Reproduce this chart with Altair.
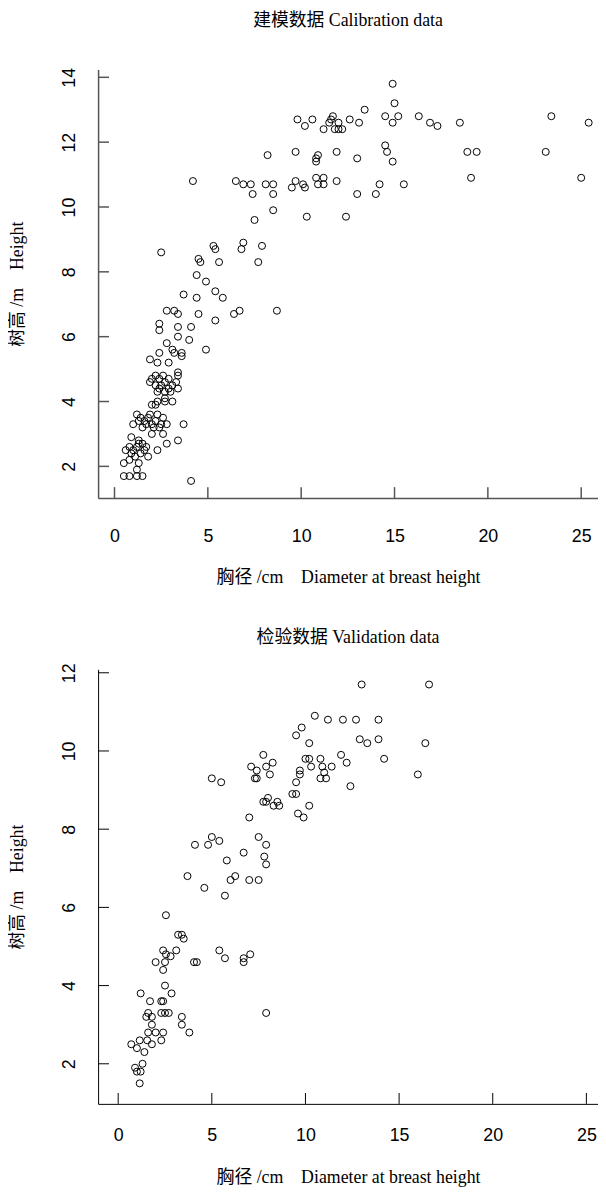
import altair as alt
import pandas as pd

# ---------------- data ----------------
cal_dbh = [14.9, 15.0, 13.4, 14.5, 15.2, 14.9, 16.3, 16.9, 17.3, 18.5, 23.4, 25.4, 12.6, 13.1,
           9.8, 10.6, 10.2, 11.2, 11.6, 11.7, 11.5, 12.0, 11.8, 12.0, 12.2,
           14.5, 14.6, 14.9, 11.9, 13.0, 10.8, 10.9, 10.8, 9.7, 8.2, 18.9, 19.4, 23.1,
           19.1, 25.0, 10.8, 11.2, 11.9, 9.7, 9.5, 10.1, 10.2, 10.9, 11.2, 14.2, 15.5, 13.0, 14.0,
           4.2, 6.5, 6.9, 7.3, 7.4, 8.1, 8.5, 8.5,
           8.5, 7.5, 10.3, 12.4,
           2.5, 5.3, 5.4, 6.9, 6.8, 7.9, 7.7, 4.5, 4.6, 5.6,
           4.4, 4.9, 3.7, 4.4, 5.4, 5.8,
           2.8, 3.2, 3.4, 4.5, 5.4, 6.4, 6.7, 8.7, 2.4, 2.4, 3.4, 4.1, 3.4, 4.0, 2.8, 4.9, 2.4,
           3.1, 3.2, 3.6, 3.6, 1.9, 2.3, 2.9, 3.4, 3.4,
           1.9, 2.0, 2.2, 2.4, 2.5, 2.7, 2.9, 3.1, 2.7, 3.3, 3.4, 2.4, 2.2, 2.9, 3.0, 2.6, 2.3,
           2.7, 2.2, 3.1, 2.0, 2.3, 2.7,
           1.0, 1.2, 1.4, 1.6, 1.8, 2.0, 2.2, 2.4, 2.6, 1.5, 1.9, 1.7, 2.3, 2.5, 2.8, 3.7, 2.1, 1.3,
           2.6, 2.0, 0.9, 1.3, 3.4, 2.8, 2.3,
           0.6, 0.8, 1.0, 1.2, 1.4, 1.6, 1.8, 1.3, 1.1, 1.5, 0.9, 1.7,
           0.5, 0.8, 1.3, 1.2, 0.5, 0.8, 1.2, 1.5, 4.1]
cal_height = [13.8, 13.2, 13.0, 12.8, 12.8, 12.6, 12.8, 12.6, 12.5, 12.6, 12.8, 12.6, 12.7, 12.6,
              12.7, 12.7, 12.5, 12.4, 12.7, 12.8, 12.6, 12.6, 12.4, 12.4, 12.4,
              11.9, 11.7, 11.4, 11.7, 11.5, 11.5, 11.6, 11.4, 11.7, 11.6, 11.7, 11.7, 11.7,
              10.9, 10.9, 10.9, 10.9, 10.8, 10.8, 10.6, 10.7, 10.6, 10.7, 10.7, 10.7, 10.7, 10.4, 10.4,
              10.8, 10.8, 10.7, 10.7, 10.4, 10.7, 10.7, 10.4,
              9.9, 9.6, 9.7, 9.7,
              8.6, 8.8, 8.7, 8.9, 8.7, 8.8, 8.3, 8.4, 8.3, 8.3,
              7.9, 7.7, 7.3, 7.2, 7.4, 7.2,
              6.8, 6.8, 6.7, 6.7, 6.5, 6.7, 6.8, 6.8, 6.4, 6.2, 6.3, 6.3, 6.0, 5.9, 5.8, 5.6, 5.5,
              5.6, 5.5, 5.4, 5.5, 5.3, 5.2, 5.2, 4.9, 4.8,
              4.6, 4.7, 4.5, 4.7, 4.5, 4.6, 4.4, 4.5, 4.3, 4.6, 4.4, 4.4, 4.8, 4.7, 4.3, 4.8, 4.3,
              4.1, 3.9, 4.0, 3.9, 4.0, 4.0,
              3.3, 3.6, 3.5, 3.4, 3.5, 3.3, 3.4, 3.2, 3.5, 3.2, 3.6, 3.3, 3.6, 3.3, 3.3, 3.3, 3.2, 3.4,
              3.0, 3.0, 2.9, 2.8, 2.8, 2.7, 2.5,
              2.5, 2.6, 2.5, 2.6, 2.4, 2.5, 2.3, 2.7, 2.3, 2.7, 2.4, 2.6,
              2.1, 2.2, 2.1, 1.9, 1.7, 1.7, 1.7, 1.7, 1.55]

val_dbh = [13.0, 16.6,
           10.5, 11.2, 12.0, 12.7, 13.9,
           9.8, 9.5, 10.2, 12.9, 13.3, 13.9, 16.4,
           14.2, 11.9, 12.2, 10.0, 10.2, 10.8, 10.3, 10.9, 11.4, 11.0, 9.7, 9.7, 10.8, 11.1, 9.5,
           16.0, 12.4, 9.3, 9.5, 10.2, 9.6, 9.9,
           7.75, 8.25, 7.1, 7.4, 7.9, 8.1, 7.3, 7.4, 5.0, 5.5,
           8.0, 7.9, 8.3, 8.5, 8.6, 7.75, 7.0,
           7.5, 7.9, 5.0, 4.8, 4.1, 5.4, 6.7, 5.8, 7.8, 7.9,
           3.7, 6.25, 6.0, 7.0, 7.5, 4.6, 5.7,
           2.55, 3.2, 3.4, 3.5,
           3.1, 2.4, 2.55, 2.8, 2.0, 2.5, 2.4, 4.05, 4.2, 5.4, 5.7, 6.7, 6.7, 7.05,
           2.5, 1.2, 2.85, 1.7, 2.3, 2.4,
           1.6, 1.5, 1.8, 2.3, 2.5, 2.7, 3.4, 3.4, 7.9, 3.8, 1.8,
           1.6, 2.0, 2.4, 1.15, 1.55, 2.3, 0.7, 1.0, 1.4, 1.8,
           1.3, 0.9, 1.2, 1.0, 1.15]
val_height = [11.7, 11.7,
              10.9, 10.8, 10.8, 10.8, 10.8,
              10.6, 10.4, 10.2, 10.3, 10.2, 10.3, 10.2,
              9.8, 9.9, 9.7, 9.8, 9.8, 9.8, 9.6, 9.6, 9.6, 9.45, 9.5, 9.4, 9.3, 9.3, 9.2,
              9.4, 9.1, 8.9, 8.9, 8.6, 8.4, 8.3,
              9.9, 9.7, 9.6, 9.5, 9.6, 9.4, 9.3, 9.3, 9.3, 9.2,
              8.8, 8.7, 8.6, 8.7, 8.6, 8.7, 8.3,
              7.8, 7.6, 7.8, 7.6, 7.6, 7.7, 7.4, 7.2, 7.3, 7.1,
              6.8, 6.8, 6.7, 6.7, 6.7, 6.5, 6.3,
              5.8, 5.3, 5.3, 5.2,
              4.9, 4.9, 4.8, 4.75, 4.6, 4.6, 4.4, 4.6, 4.6, 4.9, 4.7, 4.7, 4.6, 4.8,
              4.0, 3.8, 3.8, 3.6, 3.6, 3.6,
              3.3, 3.2, 3.2, 3.3, 3.3, 3.3, 3.2, 3.0, 3.3, 2.8, 3.0,
              2.8, 2.8, 2.8, 2.6, 2.6, 2.6, 2.5, 2.4, 2.3, 2.5,
              2.0, 1.9, 1.8, 1.8, 1.5]

cal_xticks = [0, 5, 10, 15, 20, 25]
cal_yticks = [2, 4, 6, 8, 10, 12, 14]
val_xticks = [0, 5, 10, 15, 20, 25]
val_yticks = [2, 4, 6, 8, 10, 12]

cal_title = "建模数据 Calibration data"
val_title = "检验数据 Validation data"
x_title = "胸径 /cm\u00a0\u00a0\u00a0\u00a0Diameter at breast height"
y_title = "树高 /m\u00a0\u00a0\u00a0\u00a0Height"

SERIF = "Liberation Serif, Noto Sans CJK SC"
SANS = "Liberation Sans"
W = 505


def panel(dbh, hgt, xticks, yticks, xdom, ydom, h, title, title_offset,
          axis_color, axis_width, x_label_pad, x_title_pad):
    pts = pd.DataFrame({"dbh": dbh, "height": hgt})
    xs = alt.Scale(domain=xdom, nice=False, zero=False)
    ys = alt.Scale(domain=ydom, nice=False, zero=False)
    xaxis = alt.Axis(values=xticks, title=x_title, ticks=False, grid=False,
                     domainColor=axis_color, domainWidth=axis_width,
                     labelFont=SANS, labelFontSize=18, labelColor="black",
                     labelPadding=x_label_pad, labelFlush=False, labelOverlap=False,
                     titleFont=SERIF, titleFontSize=18, titleFontWeight="normal",
                     titleColor="black", titlePadding=x_title_pad)
    yaxis = alt.Axis(values=yticks, title=y_title, ticks=False, grid=False,
                     domainColor=axis_color, domainWidth=axis_width,
                     labelFont=SANS, labelFontSize=18, labelColor="black",
                     labelAngle=270, labelAlign="center", labelBaseline="bottom",
                     labelPadding=20, labelFlush=False, labelOverlap=False,
                     titleFont=SERIF, titleFontSize=18, titleFontWeight="normal",
                     titleColor="black", titlePadding=34)
    points = alt.Chart(pts).mark_point(
        shape="circle", filled=False, color="black", size=50, strokeWidth=1, opacity=1
    ).encode(
        x=alt.X("dbh:Q", scale=xs, axis=xaxis),
        y=alt.Y("height:Q", scale=ys, axis=yaxis),
    )
    xt = alt.Chart(pd.DataFrame({"dbh": xticks})).mark_rule(
        color=axis_color, strokeWidth=axis_width
    ).encode(
        x=alt.X("dbh:Q", scale=xs, axis=xaxis),
        y=alt.value(h), y2=alt.value(h - 11),
    )
    yt = alt.Chart(pd.DataFrame({"height": yticks})).mark_rule(
        color=axis_color, strokeWidth=axis_width
    ).encode(
        y=alt.Y("height:Q", scale=ys, axis=yaxis),
        x=alt.value(0), x2=alt.value(11),
    )
    return alt.layer(points, xt, yt).properties(
        width=W, height=h,
        title=alt.TitleParams(title, font=SERIF, fontSize=18, fontWeight="normal",
                              color="black", anchor="middle", offset=title_offset),
    )


top = panel(cal_dbh, cal_height, cal_xticks, cal_yticks,
            [-0.88, 25.90], [1.023, 14.244], 433, cal_title, 38, "#555555", 1.5, 30, 23)
bottom = panel(val_dbh, val_height, val_xticks, val_yticks,
               [-1.073, 25.62], [0.975, 12.089], 439, val_title, 16, "black", 1, 23, 24)

chart = alt.vconcat(top, bottom, spacing=43).properties(
    padding={"left": 0, "top": -3, "right": 0, "bottom": 0},
    background="white",
).configure_view(stroke=None)

chart.save("out.html", embed_options={"renderer": "svg", "actions": False})
